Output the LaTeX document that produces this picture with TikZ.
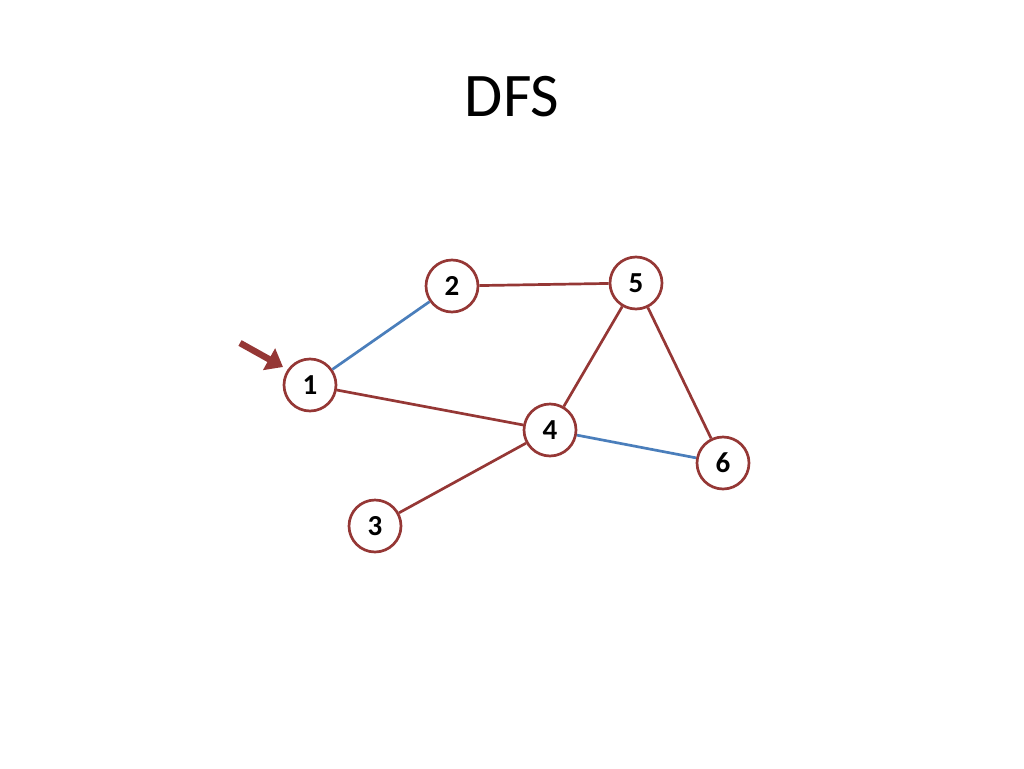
\documentclass[tikz,border=0pt]{standalone}
\usepackage{fontspec}
\setmainfont{Carlito}
\usetikzlibrary{arrows.meta}
\definecolor{dred}{HTML}{953735}
\definecolor{eblue}{HTML}{4A7EBB}
\tikzset{
  vert/.style={circle, draw=dred, line width=2.7pt, fill=white, minimum size=52pt, inner sep=0pt, font=\fontsize{29}{30}\selectfont\bfseries},
  redge/.style={draw=dred, line width=2.7pt},
  bedge/.style={draw=eblue, line width=2.7pt},
  pointer/.style={draw=dred, line width=6.5pt, -{Triangle[length=16pt,width=24pt]}}
}
\begin{document}
\begin{tikzpicture}[x=1pt,y=-1pt]
\useasboundingbox (0,0) rectangle (1024,768);
\node[font=\fontsize{62}{70}\selectfont] (title) at (512,97) {DFS};
\node[vert] (n1) at (310,385) {1};
\node[vert] (n2) at (452,286) {2};
\node[vert] (n5) at (636,283) {5};
\node[vert] (n4) at (550,430) {4};
\node[vert] (n6) at (723,463) {6};
\node[vert] (n3) at (375,526) {3};
\draw[bedge] (n1) -- (n2);
\draw[redge] (n2) -- (n5);
\draw[redge] (n1) -- (n4);
\draw[redge] (n5) -- (n4);
\draw[redge] (n5) -- (n6);
\draw[bedge] (n4) -- (n6);
\draw[redge] (n4) -- (n3);
\coordinate (ptail) at (240,343);
\coordinate (phead) at (283,367);
\draw[pointer] (ptail) -- (phead);
\end{tikzpicture}
\end{document}
